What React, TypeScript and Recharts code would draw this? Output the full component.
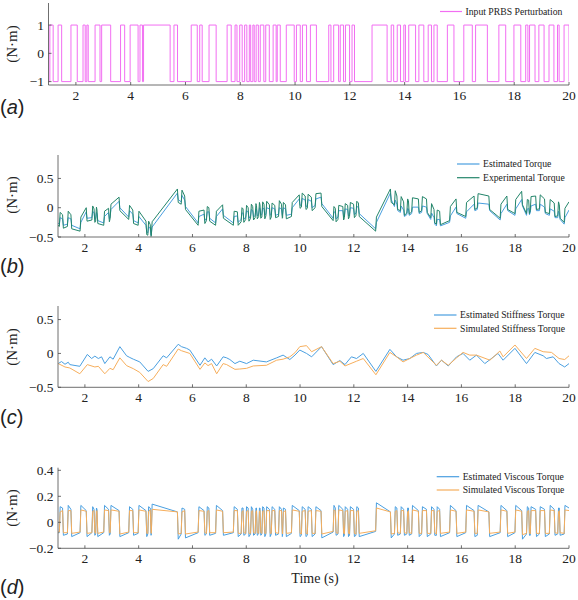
import React from 'react';
import { LineChart, Line, XAxis, YAxis } from 'recharts';

const SERIF = "'Liberation Serif', 'Times New Roman', serif";
const SANS = "'Liberation Sans', Arial, sans-serif";
const AXIS = '#4a4a4a';
const TEXT = '#222';
const C_PRBS = '#f26ef2';
const C_BLUE = '#4a9fe0';
const C_GREEN = '#23856a';
const C_ORANGE = '#f6ae5c';

const xTicks = [2, 4, 6, 8, 10, 12, 14, 16, 18, 20];

// (a) PRBS switching instants and levels
const prbsTime = [1.0, 1.05, 1.17, 1.35, 1.48, 1.82, 2.05, 2.26, 2.34, 2.40, 2.45, 2.70, 2.88, 2.94, 3.27, 3.63, 3.78, 3.98, 4.27, 4.34, 4.43, 4.47, 5.44, 5.58, 5.71, 6.21, 6.43, 6.52, 6.61, 6.86, 7.12, 7.52, 7.67, 7.81, 7.88, 7.98, 8.07, 8.16, 8.24, 8.33, 8.38, 8.46, 8.51, 8.58, 8.66, 8.73, 8.86, 8.93, 9.06, 9.20, 9.31, 9.35, 9.46, 9.68, 9.97, 10.05, 10.19, 10.27, 10.42, 10.56, 10.78, 11.23, 11.31, 11.41, 11.59, 11.65, 11.77, 11.84, 11.99, 12.08, 12.17, 12.81, 13.36, 13.51, 13.60, 13.73, 13.85, 13.97, 14.03, 14.15, 14.40, 14.52, 14.70, 14.86, 14.98, 15.07, 15.19, 15.56, 15.80, 16.16, 16.47, 16.59, 17.02, 17.44, 17.69, 17.99, 18.24, 18.42, 18.50, 18.56, 18.76, 18.90, 19.09, 19.27, 19.45, 19.58, 19.64, 19.82, 20.0];
const prbsLevel = [-1,
  1, -1, 1, -1, 1, -1, 1, -1, 1, -1, 1, -1, 1, -1, 1, -1, 1, -1, 1, -1,
  1, -1, 1, -1, 1, -1, 1, -1, 1, -1, 1, -1, 1, -1, 1, -1, 1, -1, 1, -1,
  1, -1, 1, -1, 1, -1, 1, -1, 1, -1, 1, -1, 1, -1, 1, -1, 1, -1, 1, -1,
  1, -1, 1, -1, 1, -1, 1, -1, 1, -1, 1, -1, 1, -1, 1, -1, 1, -1, 1, -1,
  1, -1, 1, -1, 1, -1, 1, -1, 1, -1, 1, -1, 1, -1, 1, -1, 1, -1, 1, -1,
  1, -1, 1, -1, 1, -1, 1, -1];

// (b) and (d) sample instants (around each switching edge)
const edgeTime = [1.00,
  1.05, 1.08, 1.17, 1.20, 1.35, 1.38, 1.48, 1.51, 1.82, 1.85, 2.05, 2.08,
  2.26, 2.29, 2.34, 2.37, 2.40, 2.43, 2.45, 2.48, 2.70, 2.73, 2.88, 2.91,
  2.94, 2.97, 3.27, 3.30, 3.63, 3.66, 3.78, 3.81, 3.98, 4.01, 4.27, 4.30,
  4.34, 4.37, 4.43, 4.46, 4.47, 4.50, 5.44, 5.47, 5.58, 5.61, 5.71, 5.74,
  6.21, 6.24, 6.43, 6.46, 6.52, 6.55, 6.61, 6.64, 6.86, 6.89, 7.12, 7.15,
  7.52, 7.55, 7.67, 7.70, 7.81, 7.84, 7.88, 7.91, 7.98, 8.01, 8.07, 8.10,
  8.16, 8.19, 8.24, 8.27, 8.33, 8.36, 8.38, 8.41, 8.46, 8.49, 8.51, 8.54,
  8.58, 8.61, 8.66, 8.69, 8.73, 8.76, 8.86, 8.89, 8.93, 8.96, 9.06, 9.09,
  9.20, 9.23, 9.31, 9.34, 9.35, 9.38, 9.46, 9.49, 9.68, 9.71, 9.97, 10.00,
  10.05, 10.08, 10.19, 10.22, 10.27, 10.30, 10.42, 10.45, 10.56, 10.59, 10.78, 10.81,
  11.23, 11.26, 11.31, 11.34, 11.41, 11.44, 11.59, 11.62, 11.65, 11.68, 11.77, 11.80,
  11.84, 11.87, 11.99, 12.02, 12.08, 12.11, 12.17, 12.20, 12.81, 12.84, 13.36, 13.39,
  13.51, 13.54, 13.60, 13.63, 13.73, 13.76, 13.85, 13.88, 13.97, 14.00, 14.03, 14.06,
  14.15, 14.18, 14.40, 14.43, 14.52, 14.55, 14.70, 14.73, 14.86, 14.89, 14.98, 15.01,
  15.07, 15.10, 15.19, 15.22, 15.56, 15.59, 15.80, 15.83, 16.16, 16.19, 16.47, 16.50,
  16.59, 16.62, 17.02, 17.05, 17.44, 17.47, 17.69, 17.72, 17.99, 18.02, 18.24, 18.27,
  18.42, 18.45, 18.50, 18.53, 18.56, 18.59, 18.76, 18.79, 18.90, 18.93, 19.09, 19.12,
  19.27, 19.30, 19.45, 19.48, 19.58, 19.61, 19.64, 19.67, 19.82, 19.85, 20.00];

// (b) estimated torque
const torqueEst = [-0.26,
  -0.28, -0.17, -0.19, -0.30, -0.28, -0.17, -0.19, -0.30, -0.36, -0.25, -0.07, -0.18,
  -0.17, -0.06, -0.09, -0.20, -0.19, -0.08, -0.11, -0.22, -0.26, -0.15, -0.08, -0.19,
  -0.14, -0.03, 0.11, 0.0, -0.16, -0.05, -0.11, -0.22, -0.26, -0.15, -0.30, -0.41,
  -0.43, -0.32, -0.36, -0.47, -0.44, -0.33, 0.25, 0.14, 0.10, 0.21, 0.13, 0.02,
  -0.26, -0.15, -0.11, -0.22, -0.18, -0.07, -0.07, -0.18, -0.26, -0.15, -0.02, -0.13,
  -0.26, -0.15, -0.14, -0.25, -0.20, -0.09, -0.09, -0.20, -0.16, -0.05, -0.07, -0.18,
  -0.14, -0.03, -0.05, -0.16, -0.13, -0.02, -0.03, -0.14, -0.11, 0.0, -0.02, -0.13,
  -0.11, 0.0, -0.02, -0.13, -0.11, 0.0, -0.02, -0.13, -0.11, 0.0, -0.02, -0.13,
  -0.11, 0.0, -0.02, -0.13, -0.11, 0.0, -0.02, -0.13, -0.11, 0.0, 0.15, 0.04,
  0.05, 0.16, 0.13, 0.02, 0.03, 0.14, 0.11, 0.0, 0.04, 0.15, 0.18, 0.07,
  -0.18, -0.07, -0.08, -0.19, -0.16, -0.05, -0.05, -0.16, -0.13, -0.02, -0.03, -0.14,
  -0.11, 0.0, -0.01, -0.12, -0.09, 0.02, 0.01, -0.10, -0.36, -0.25, 0.25, 0.14,
  0.02, 0.13, 0.06, -0.05, -0.08, 0.03, -0.04, -0.15, -0.12, -0.01, -0.02, -0.13,
  -0.10, 0.01, 0.01, -0.10, -0.08, 0.03, 0.01, -0.10, -0.20, -0.09, -0.17, -0.28,
  -0.31, -0.20, -0.20, -0.31, -0.25, -0.14, 0.01, -0.10, -0.18, -0.07, 0.06, -0.05,
  -0.03, 0.08, 0.06, -0.05, -0.21, -0.10, 0.06, -0.05, -0.13, -0.02, 0.14, 0.03,
  -0.13, -0.02, -0.01, -0.12, -0.08, 0.03, 0.06, -0.05, -0.05, 0.06, 0.01, -0.10,
  -0.13, -0.02, -0.06, -0.17, -0.17, -0.06, -0.09, -0.20, -0.28, -0.17, -0.04];

// (b) experimental torque
const torqueExp = [-0.30,
  -0.32, -0.08, -0.12, -0.35, -0.32, -0.06, -0.12, -0.36, -0.40, -0.16, 0.0, -0.23,
  -0.21, 0.03, -0.02, -0.25, -0.23, 0.01, -0.04, -0.27, -0.30, -0.06, -0.01, -0.24,
  -0.18, 0.06, 0.18, -0.05, -0.20, 0.04, -0.04, -0.27, -0.30, -0.06, -0.23, -0.46,
  -0.47, -0.23, -0.29, -0.49, -0.48, -0.24, 0.32, 0.09, 0.06, 0.30, 0.20, -0.03,
  -0.30, -0.06, -0.04, -0.27, -0.22, 0.02, 0.0, -0.23, -0.30, -0.06, 0.05, -0.18,
  -0.30, -0.06, -0.07, -0.30, -0.24, 0.0, -0.02, -0.25, -0.20, 0.04, 0.0, -0.23,
  -0.18, 0.06, 0.02, -0.21, -0.17, 0.07, 0.04, -0.19, -0.15, 0.09, 0.05, -0.18,
  -0.16, 0.10, 0.06, -0.19, -0.14, 0.11, 0.05, -0.20, -0.16, 0.08, 0.04, -0.17,
  -0.15, 0.12, 0.06, -0.18, -0.17, 0.09, 0.05, -0.19, -0.15, 0.09, 0.22, -0.01,
  0.01, 0.25, 0.20, -0.03, -0.01, 0.23, 0.18, -0.05, 0.0, 0.24, 0.25, 0.02,
  -0.22, 0.02, -0.01, -0.24, -0.20, 0.04, 0.02, -0.21, -0.17, 0.07, 0.04, -0.19,
  -0.15, 0.09, 0.06, -0.17, -0.13, 0.11, 0.08, -0.15, -0.40, -0.16, 0.32, 0.09,
  0.05, 0.29, 0.20, -0.03, -0.05, 0.19, 0.10, -0.13, -0.09, 0.15, 0.12, -0.11,
  -0.07, 0.17, 0.15, -0.08, -0.05, 0.19, 0.15, -0.08, -0.17, 0.07, -0.03, -0.26,
  -0.28, -0.04, -0.06, -0.29, -0.22, 0.02, 0.15, -0.08, -0.15, 0.09, 0.20, -0.03,
  0.0, 0.24, 0.20, -0.03, -0.18, 0.06, 0.20, -0.03, -0.10, 0.14, 0.28, 0.05,
  -0.10, 0.14, 0.13, -0.10, -0.05, 0.19, 0.20, -0.03, -0.02, 0.22, 0.15, -0.08,
  -0.10, 0.14, 0.08, -0.15, -0.14, 0.10, 0.05, -0.18, -0.25, -0.01, 0.10];

// (c) stiffness torque
const stiffEstTime = [1.01, 1.13, 1.26, 1.38, 1.44, 1.81, 2.09, 2.25, 2.37, 2.50, 2.62, 2.74, 2.93, 3.05, 3.30, 3.55, 3.67, 3.80, 4.04, 4.35, 4.54, 4.91, 5.04, 5.47, 5.59, 5.78, 5.90, 6.28, 6.46, 6.58, 6.71, 6.90, 7.14, 7.27, 7.39, 7.58, 7.76, 8.01, 8.26, 8.75, 9.13, 9.37, 9.62, 9.81, 9.99, 10.24, 10.43, 10.80, 11.23, 11.48, 11.67, 11.91, 12.10, 12.35, 12.82, 13.34, 13.59, 13.83, 14.08, 14.33, 14.58, 14.76, 15.07, 15.26, 15.51, 15.82, 16.06, 16.31, 16.56, 16.87, 17.36, 17.55, 17.99, 18.42, 18.73, 19.04, 19.16, 19.41, 19.63, 19.84, 20.0];
const stiffEst = [-0.15, -0.12, -0.16, -0.13, -0.165, -0.19, -0.015, -0.075, -0.04, -0.075, -0.05, -0.15, -0.05, -0.085, 0.10, -0.035, -0.06, -0.085, -0.125, -0.265, -0.225, -0.035, -0.065, 0.135, 0.10, 0.075, 0.05, -0.175, -0.065, -0.125, -0.085, -0.185, -0.05, -0.065, -0.09, -0.15, -0.115, -0.15, -0.10, -0.125, -0.065, -0.025, -0.09, -0.025, 0.05, 0.0, -0.05, 0.10, -0.165, -0.105, -0.165, -0.05, -0.075, 0.0, -0.265, 0.06, -0.05, -0.10, -0.075, 0.0, 0.015, -0.015, -0.185, -0.10, -0.185, -0.05, 0.0, -0.10, -0.025, -0.15, 0.0, -0.10, 0.075, -0.15, 0.015, -0.035, -0.075, -0.05, -0.15, -0.20, -0.15];
const stiffSimTime = [1.01, 1.26, 1.44, 1.81, 2.09, 2.37, 2.50, 2.74, 2.93, 3.05, 3.30, 3.55, 3.80, 4.04, 4.35, 4.54, 4.91, 5.04, 5.47, 5.59, 5.90, 6.28, 6.46, 6.58, 6.71, 6.90, 7.14, 7.27, 7.58, 7.76, 8.01, 8.26, 8.75, 9.13, 9.37, 9.62, 9.81, 9.99, 10.24, 10.43, 10.80, 11.23, 11.48, 11.67, 12.10, 12.35, 12.82, 13.34, 13.59, 13.83, 14.33, 14.58, 15.07, 15.26, 15.51, 15.82, 16.06, 16.31, 16.56, 17.06, 17.43, 17.55, 17.99, 18.42, 18.73, 19.04, 19.35, 19.63, 19.84, 20.0];
const stiffSim = [-0.15, -0.20, -0.215, -0.30, -0.165, -0.20, -0.19, -0.30, -0.22, -0.24, -0.065, -0.18, -0.225, -0.28, -0.415, -0.37, -0.165, -0.19, 0.065, 0.04, 0.0, -0.235, -0.14, -0.18, -0.15, -0.30, -0.15, -0.165, -0.235, -0.23, -0.22, -0.185, -0.175, -0.10, -0.085, -0.05, 0.01, 0.10, 0.115, 0.025, 0.10, -0.15, -0.115, -0.185, -0.115, -0.075, -0.315, 0.015, -0.05, -0.125, -0.025, 0.015, -0.175, -0.10, -0.175, -0.065, 0.015, -0.025, -0.025, -0.10, 0.035, -0.05, 0.125, -0.075, 0.075, 0.025, 0.015, -0.075, -0.09, -0.035];

// (d) viscous torque
const viscEst = [-0.08,
  -0.08, 0.12, 0.11, -0.10, -0.09, 0.13, 0.10, -0.11, -0.08, 0.13, 0.09, -0.11,
  -0.08, 0.12, 0.10, -0.10, -0.09, 0.11, 0.10, -0.11, -0.08, 0.13, 0.10, -0.10,
  -0.09, 0.13, 0.09, -0.11, -0.08, 0.12, 0.10, -0.10, -0.085, 0.13, 0.09, -0.11,
  -0.09, 0.12, 0.11, -0.10, -0.09, 0.14, 0.08, -0.13, -0.09, 0.11, 0.10, -0.12,
  -0.08, 0.12, 0.09, -0.10, -0.09, 0.12, 0.11, -0.10, -0.085, 0.13, 0.09, -0.10,
  -0.08, 0.12, 0.10, -0.11, -0.09, 0.11, 0.11, -0.10, -0.09, 0.12, 0.11, -0.11,
  -0.09, 0.12, 0.10, -0.10, -0.09, 0.11, 0.11, -0.10, -0.09, 0.11, 0.11, -0.10,
  -0.09, 0.12, 0.11, -0.11, -0.09, 0.12, 0.10, -0.11, -0.09, 0.12, 0.10, -0.10,
  -0.09, 0.12, 0.10, -0.11, -0.10, 0.11, 0.10, -0.11, -0.085, 0.13, 0.09, -0.11,
  -0.10, 0.12, 0.10, -0.11, -0.10, 0.12, 0.10, -0.11, -0.09, 0.12, 0.09, -0.12,
  -0.075, 0.13, 0.11, -0.10, -0.09, 0.13, 0.10, -0.11, -0.10, 0.12, 0.10, -0.11,
  -0.10, 0.12, 0.10, -0.11, -0.10, 0.12, 0.11, -0.11, -0.07, 0.15, 0.08, -0.12,
  -0.09, 0.12, 0.11, -0.10, -0.09, 0.12, 0.10, -0.10, -0.09, 0.11, 0.11, -0.10,
  -0.09, 0.13, 0.09, -0.11, -0.09, 0.12, 0.10, -0.11, -0.09, 0.12, 0.10, -0.10,
  -0.10, 0.12, 0.10, -0.11, -0.08, 0.13, 0.09, -0.11, -0.08, 0.13, 0.09, -0.11,
  -0.10, 0.13, 0.08, -0.11, -0.08, 0.13, 0.09, -0.11, -0.08, 0.13, 0.09, -0.13,
  -0.09, 0.12, 0.11, -0.10, -0.10, 0.12, 0.10, -0.11, -0.09, 0.12, 0.10, -0.11,
  -0.09, 0.13, 0.10, -0.10, -0.09, 0.11, 0.11, -0.10, -0.09, 0.13, 0.11];
const viscSim = [-0.075,
  -0.075, 0.08, 0.09, -0.08, -0.08, 0.09, 0.09, -0.085, -0.075, 0.095, 0.085, -0.085,
  -0.08, 0.085, 0.09, -0.08, -0.085, 0.08, 0.09, -0.085, -0.075, 0.095, 0.09, -0.08,
  -0.08, 0.095, 0.085, -0.09, -0.075, 0.09, 0.09, -0.08, -0.08, 0.095, 0.085, -0.085,
  -0.085, 0.085, 0.095, -0.08, -0.085, 0.10, 0.08, -0.09, -0.085, 0.08, 0.09, -0.09,
  -0.075, 0.09, 0.085, -0.08, -0.085, 0.085, 0.09, -0.08, -0.08, 0.095, 0.085, -0.08,
  -0.075, 0.09, 0.09, -0.085, -0.085, 0.08, 0.09, -0.08, -0.085, 0.085, 0.09, -0.085,
  -0.085, 0.085, 0.09, -0.08, -0.085, 0.08, 0.09, -0.08, -0.085, 0.08, 0.09, -0.08,
  -0.085, 0.085, 0.09, -0.085, -0.085, 0.09, 0.09, -0.085, -0.085, 0.09, 0.09, -0.08,
  -0.085, 0.09, 0.09, -0.085, -0.09, 0.08, 0.09, -0.085, -0.08, 0.095, 0.085, -0.085,
  -0.09, 0.085, 0.09, -0.085, -0.09, 0.085, 0.09, -0.085, -0.085, 0.09, 0.085, -0.09,
  -0.07, 0.095, 0.09, -0.08, -0.085, 0.095, 0.09, -0.085, -0.09, 0.085, 0.09, -0.085,
  -0.09, 0.09, 0.09, -0.085, -0.09, 0.085, 0.09, -0.085, -0.065, 0.11, 0.08, -0.09,
  -0.085, 0.085, 0.09, -0.08, -0.085, 0.09, 0.09, -0.08, -0.085, 0.08, 0.09, -0.08,
  -0.085, 0.095, 0.085, -0.085, -0.085, 0.09, 0.09, -0.085, -0.085, 0.09, 0.09, -0.08,
  -0.09, 0.085, 0.09, -0.085, -0.075, 0.095, 0.085, -0.085, -0.075, 0.095, 0.085, -0.085,
  -0.085, 0.095, 0.08, -0.085, -0.075, 0.095, 0.085, -0.085, -0.075, 0.095, 0.085, -0.095,
  -0.085, 0.085, 0.09, -0.08, -0.09, 0.09, 0.09, -0.085, -0.085, 0.09, 0.09, -0.085,
  -0.085, 0.095, 0.09, -0.08, -0.085, 0.08, 0.09, -0.08, -0.085, 0.095, 0.09];

const zip = (ts: number[], vs: number[]) => ts.map((t, i) => ({ t, v: vs[i] }));

const prbsData = zip(prbsTime, prbsLevel);
const estData = zip(edgeTime, torqueEst);
const expData = zip(edgeTime, torqueExp);
const stiffEstData = zip(stiffEstTime, stiffEst);
const stiffSimData = zip(stiffSimTime, stiffSim);
const viscEstData = zip(edgeTime, viscEst);
const viscSimData = zip(edgeTime, viscSim);

const fmt = (v: number) => (v < 0 ? '\u2212' + String(Math.abs(v)) : String(v));

const serifStyle = { fontFamily: SERIF };

const XTick = (p: any) => (
  <g>
    <line x1={p.x} x2={p.x} y1={p.y} y2={p.y - 3} stroke={AXIS} strokeWidth={0.8} />
    <text x={p.x} y={p.y + 15} textAnchor="middle" style={serifStyle} fontSize={13.5} fill={TEXT}>
      {fmt(p.payload.value)}
    </text>
  </g>
);

const YTick = (p: any) => (
  <g>
    <line x1={p.x} x2={p.x + 3} y1={p.y} y2={p.y} stroke={AXIS} strokeWidth={0.8} />
    <text x={p.x - 4.5} y={p.y + 4.5} textAnchor="end" style={serifStyle} fontSize={13.5} fill={TEXT}>
      {fmt(p.payload.value)}
    </text>
  </g>
);

type PanelProps = {
  top: number;
  height: number;
  mTop: number;
  mBottom: number;
  plotLeft: number;
  yDomain: [number, number];
  yTicks: number[];
  children: React.ReactNode;
};

function Panel({ top, height, mTop, mBottom, plotLeft, yDomain, yTicks, children }: PanelProps) {
  return (
    <div style={{ position: 'absolute', left: 0, top, width: 578, height }}>
      <LineChart width={578} height={height} margin={{ top: mTop, right: 9, bottom: mBottom, left: plotLeft - 40 }}>
        <XAxis
          type="number"
          dataKey="t"
          domain={[1, 20]}
          ticks={xTicks}
          interval={0}
          allowDataOverflow
          height={20}
          tickLine={false}
          tickSize={0}
          tickMargin={0}
          axisLine={{ stroke: AXIS, strokeWidth: 0.8 }}
          tick={(p: any) => <XTick {...p} />}
        />
        <YAxis
          type="number"
          domain={yDomain}
          ticks={yTicks}
          interval={0}
          allowDataOverflow
          width={40}
          tickLine={false}
          tickSize={0}
          tickMargin={0}
          axisLine={{ stroke: AXIS, strokeWidth: 0.8 }}
          tick={(p: any) => <YTick {...p} />}
        />
        {children}
      </LineChart>
    </div>
  );
}

const LegendRow = ({ x1, x2, y, color, label }: { x1: number; x2: number; y: number; color: string; label: string }) => (
  <g>
    <line x1={x1} x2={x2} y1={y} y2={y} stroke={color} strokeWidth={1.2} />
    <text x={x2 + 3.5} y={y + 3.3} style={serifStyle} fontSize={9.7} fill={TEXT}>{label}</text>
  </g>
);

const PanelTag = ({ y, letter }: { y: number; letter: string }) => (
  <text x={0} y={y} style={{ fontFamily: SANS }} fontSize={20} fill={TEXT}>
    (<tspan fontStyle="italic">{letter}</tspan>)
  </text>
);

const YLabel = ({ cy }: { cy: number }) => (
  <text
    x={12}
    y={cy}
    transform={`rotate(-90, 12, ${cy})`}
    textAnchor="middle"
    dominantBaseline="central"
    style={serifStyle}
    fontSize={15}
    fill={TEXT}
  >
    (N·m)
  </text>
);

export default function App() {
  return (
    <div style={{ position: 'absolute', left: 0, top: 0, width: 578, height: 600, background: '#fff', overflow: 'hidden' }}>
      <Panel top={0} height={110} mTop={3} mBottom={5} plotLeft={48.5} yDomain={[-1.12, 1.78]} yTicks={[-1, 0, 1]}>
        <Line data={prbsData} dataKey="v" type="stepAfter" stroke={C_PRBS} strokeWidth={1} dot={false} isAnimationActive={false} />
      </Panel>
      <Panel top={140} height={120} mTop={15} mBottom={3} plotLeft={58} yDomain={[-0.5, 0.9]} yTicks={[-0.5, 0, 0.5]}>
        <Line data={estData} dataKey="v" type="linear" stroke={C_BLUE} strokeWidth={1} dot={false} isAnimationActive={false} />
        <Line data={expData} dataKey="v" type="linear" stroke={C_GREEN} strokeWidth={1} dot={false} isAnimationActive={false} />
      </Panel>
      <Panel top={295} height={115} mTop={11} mBottom={2.7} plotLeft={58} yDomain={[-0.5, 0.7]} yTicks={[-0.5, 0, 0.5]}>
        <Line data={stiffEstData} dataKey="v" type="linear" stroke={C_BLUE} strokeWidth={1} dot={false} isAnimationActive={false} />
        <Line data={stiffSimData} dataKey="v" type="linear" stroke={C_ORANGE} strokeWidth={1} dot={false} isAnimationActive={false} />
      </Panel>
      <Panel top={455} height={115} mTop={12.7} mBottom={1.7} plotLeft={58} yDomain={[-0.2, 0.42]} yTicks={[-0.2, 0, 0.2, 0.4]}>
        <Line data={viscEstData} dataKey="v" type="linear" stroke={C_BLUE} strokeWidth={1} dot={false} isAnimationActive={false} />
        <Line data={viscSimData} dataKey="v" type="linear" stroke={C_ORANGE} strokeWidth={1} dot={false} isAnimationActive={false} />
      </Panel>

      <svg width={578} height={600} style={{ position: 'absolute', left: 0, top: 0, pointerEvents: 'none' }}>
        <YLabel cy={44} />
        <YLabel cy={195} />
        <YLabel cy={347} />
        <YLabel cy={508} />

        <PanelTag y={114} letter="a" />
        <PanelTag y={273} letter="b" />
        <PanelTag y={424} letter="c" />
        <PanelTag y={594} letter="d" />

        <text x={315} y={582.5} textAnchor="middle" style={serifStyle} fontSize={14} fill={TEXT}>Time (s)</text>

        <LegendRow x1={440} x2={462} y={11.5} color={C_PRBS} label="Input PRBS Perturbation" />
        <LegendRow x1={457} x2={479.5} y={164} color={C_BLUE} label="Estimated Torque" />
        <LegendRow x1={457} x2={479.5} y={177.7} color={C_GREEN} label="Experimental Torque" />
        <LegendRow x1={434} x2={456.5} y={315} color={C_BLUE} label="Estimated Stiffness Torque" />
        <LegendRow x1={434} x2={456.5} y={328.3} color={C_ORANGE} label="Simulated Stiffness Torque" />
        <LegendRow x1={436.7} x2={459.2} y={476.7} color={C_BLUE} label="Estimated Viscous Torque" />
        <LegendRow x1={436.7} x2={459.2} y={490} color={C_ORANGE} label="Simulated Viscous Torque" />
      </svg>
    </div>
  );
}
